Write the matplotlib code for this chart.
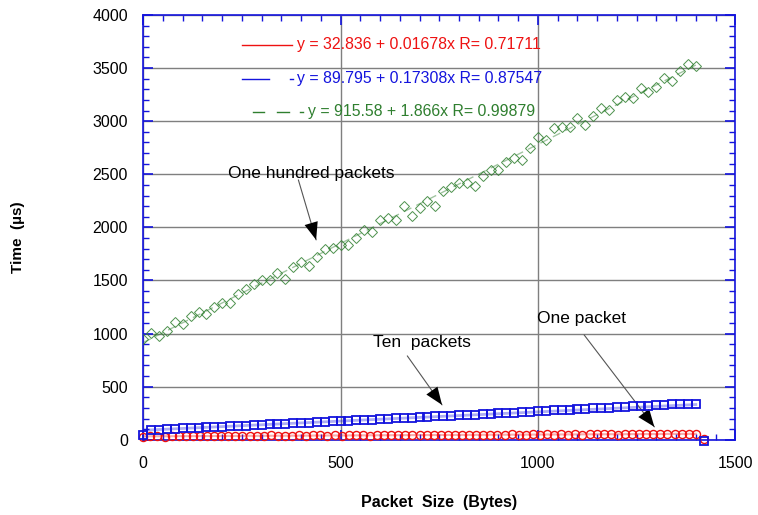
import numpy as np
import matplotlib
matplotlib.use("Agg")
import matplotlib.pyplot as plt
from matplotlib.ticker import MultipleLocator

RED = "#ee1111"
BLUE = "#1414dd"
GREEN = "#2f7f2f"
GRID = "#7f7f7f"

# one packet
one_size = np.append(np.linspace(0, 1400, 79), 1420)
one_time = [30, 36, 33, 31, 37, 35, 34, 38, 33, 36,
            39, 35, 37, 34, 40, 38, 36, 39, 41, 37,
            40, 38, 42, 39, 41, 43, 38, 42, 40, 44,
            41, 43, 39, 45, 42, 44, 46, 41, 45, 43,
            47, 44, 42, 46, 48, 45, 43, 47, 49, 46,
            48, 44, 50, 47, 49, 51, 46, 50, 48, 52,
            49, 51, 47, 53, 50, 52, 54, 49, 53, 51,
            55, 52, 54, 56, 51, 55, 57, 54, 56, 12]

# ten packets
ten_size = np.append(np.arange(0, 1401, 20), 1420)
ten_time = [45, 92, 97, 100, 104, 108, 111, 115, 118, 121,
            125, 127, 131, 134, 138, 141, 146, 148, 151, 154,
            159, 162, 166, 169, 173, 176, 181, 183, 187, 191,
            195, 198, 202, 205, 210, 212, 216, 220, 224, 227,
            231, 235, 238, 243, 245, 250, 253, 257, 261, 264,
            268, 271, 276, 279, 283, 287, 291, 295, 299, 303,
            306, 311, 314, 318, 322, 326, 330, 333, 336, 338,
            339, -12]

# one hundred packets
hundred_size = np.arange(0, 1401, 20)
hundred_time = [945, 1010, 980, 1020, 1110, 1090, 1165, 1200, 1185, 1255,
                1285, 1290, 1370, 1420, 1465, 1505, 1505, 1575, 1510, 1630,
                1675, 1640, 1725, 1800, 1805, 1835, 1835, 1900, 1975, 1960,
                2065, 2085, 2065, 2205, 2110, 2180, 2250, 2205, 2340, 2380,
                2415, 2420, 2390, 2480, 2540, 2540, 2620, 2650, 2635, 2745,
                2850, 2825, 2935, 2945, 2945, 3025, 2965, 3045, 3120, 3105,
                3200, 3225, 3215, 3310, 3270, 3325, 3405, 3380, 3475, 3540,
                3515]

# linear fits: (intercept, slope, R)
fit_one = (32.836, 0.01678, 0.71711)
fit_ten = (89.795, 0.17308, 0.87547)
fit_hundred = (915.58, 1.866, 0.99879)

plt.rcParams["font.family"] = ["Liberation Sans", "DejaVu Sans"]

fig = plt.figure(figsize=(7.58, 5.15), dpi=100)
ax = fig.add_axes([0.189, 0.146, 0.781, 0.825])

ax.set_xlim(0, 1500)
ax.set_ylim(0, 4000)
ax.xaxis.set_major_locator(MultipleLocator(500))
ax.xaxis.set_minor_locator(MultipleLocator(50))
ax.yaxis.set_major_locator(MultipleLocator(500))
ax.yaxis.set_minor_locator(MultipleLocator(100))
ax.grid(which="major", color=GRID, linewidth=1.0)
ax.set_axisbelow(True)
for s in ax.spines.values():
    s.set_color(BLUE)
    s.set_linewidth(1.2)
ax.tick_params(which="both", direction="in", top=True, right=True,
               color=BLUE, labelsize=11.5, labelcolor="black")
ax.tick_params(which="major", length=7, width=1.2)
ax.tick_params(which="minor", length=4, width=1.0)
ax.tick_params(axis="x", pad=12)
ax.tick_params(axis="y", pad=11)

# fitted lines, drawn faint under the points
xf = np.array([0, 1400])
ax.plot(xf, fit_one[0] + fit_one[1] * xf, color=RED, lw=1.5, alpha=0.35)
ax.plot(xf, fit_ten[0] + fit_ten[1] * xf, color=BLUE, lw=2.0, alpha=0.35)
ax.plot(xf, fit_hundred[0] + fit_hundred[1] * xf, color=GREEN, lw=1.0,
        alpha=0.45, dashes=(6, 4))

ax.plot(one_size, one_time, "o", ls="none", ms=5.8, mfc="none", mec=RED,
        mew=1.0, clip_on=False, zorder=3)
ax.plot(ten_size, ten_time, "s", ls="none", ms=5.8, mfc="none", mec=BLUE,
        mew=1.3, clip_on=False, zorder=4)
ax.plot(hundred_size, hundred_time, "D", ls="none", ms=4.8, mfc="none",
        mec=GREEN, mew=0.7, alpha=0.85, zorder=3)

# key in the upper left
tr = ax.transAxes
kw = dict(transform=tr, clip_on=False, lw=1.0)
ax.plot([0.1667, 0.2512], [0.9294, 0.9294], color=RED, **kw)
ax.plot([0.1667, 0.2117], [0.8494, 0.8494], color=BLUE, **kw)
ax.plot([0.2475, 0.2530], [0.8494, 0.8494], color=BLUE, **kw)
ax.plot([0.1858, 0.2044], [0.7718, 0.7718], color=GREEN, **kw)
ax.plot([0.2258, 0.2454], [0.7718, 0.7718], color=GREEN, **kw)
ax.plot([0.2645, 0.2700], [0.7718, 0.7718], color=GREEN, **kw)

def fit_label(f):
    return f"y = {f[0]} + {f[1]}x R= {f[2]}"

ax.text(0.2601, 0.9294, fit_label(fit_one), transform=tr, color=RED,
        fontsize=11.4, va="center", ha="left")
ax.text(0.2601, 0.8494, fit_label(fit_ten), transform=tr, color=BLUE,
        fontsize=11.4, va="center", ha="left")
ax.text(0.2787, 0.7718, fit_label(fit_hundred), transform=tr, color=GREEN,
        fontsize=11.4, va="center", ha="left")

# series callouts
def callout(text, txt_xy, start, end):
    ax.text(*txt_xy, text, fontsize=12.5, ha="center", va="center")
    ax.annotate("", xy=end, xytext=start,
                arrowprops=dict(arrowstyle="-", color="#555555", lw=0.8,
                                shrinkA=0, shrinkB=0))
    ax.annotate("", xy=end, xytext=start,
                arrowprops=dict(arrowstyle="-|>,head_length=0.9,head_width=0.35",
                                color="black", lw=0, shrinkA=0, shrinkB=0,
                                mutation_scale=14))

callout("One hundred packets", (426, 2503), (393, 2447), (438, 1882))
callout("Ten  packets", (707, 913), (669, 790), (757, 329))
callout("One packet", (1110, 1139), (1117, 988), (1295, 122))

fig.text(0.579, 0.025, "Packet  Size  (Bytes)", fontsize=11.5,
         fontweight="bold", ha="center", va="center")
fig.text(0.024, 0.54, "Time  (\u00b5s)", rotation=90, fontsize=11,
         fontweight="bold", ha="center", va="center")

fig.savefig("out.png", dpi=100)
